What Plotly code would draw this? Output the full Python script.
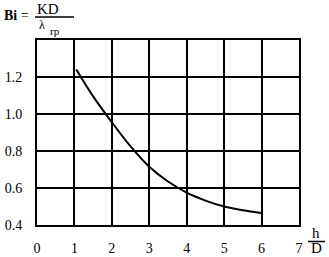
import plotly.graph_objects as go

x_vals = [1.05, 1.5, 2.0, 2.5, 3.0, 3.5, 4.0, 4.5, 5.0, 5.5, 6.0]
bi_vals = [1.24, 1.095, 0.955, 0.825, 0.715, 0.635, 0.575, 0.532, 0.50, 0.48, 0.465]
x_ticks = [0, 1, 2, 3, 4, 5, 6, 7]
y_ticks = [0.4, 0.6, 0.8, 1.0, 1.2]
y_labels = ["0.4", "0.6", "0.8", "1.0", "1.2"]

font = "Liberation Serif, Times New Roman, serif"
W, H = 329, 257
L, R, T, B = 37, 30, 40, 32
PW, PH = W - L - R, H - T - B

fig = go.Figure()
fig.add_trace(go.Scatter(x=x_vals, y=bi_vals, mode="lines",
                         line=dict(color="black", width=2, shape="spline", smoothing=1.0),
                         showlegend=False))

fig.update_xaxes(range=[0, 7], tickvals=x_ticks, ticktext=[str(v) for v in x_ticks],
                 showgrid=True, gridcolor="black", gridwidth=2,
                 showline=True, linecolor="black", linewidth=2, mirror=True,
                 zeroline=False, ticks="", ticklabelstandoff=9, automargin=False,
                 tickfont=dict(family=font, size=14, color="black"))
fig.update_yaxes(range=[0.4, 1.4], tickvals=y_ticks, ticktext=y_labels,
                 showgrid=True, gridcolor="black", gridwidth=2,
                 showline=True, linecolor="black", linewidth=2, mirror=True,
                 zeroline=False, ticks="", ticklabelstandoff=10, automargin=False,
                 tickfont=dict(family=font, size=14, color="black"))


def px(xp):
    return (xp - L) / PW


def py(yp):
    return (H - B - yp) / PH


ann = [
    dict(text="<b>Bi</b> =", x=3, y=15, xanchor="left", font=dict(size=14)),
    dict(text="KD", x=36, y=9, xanchor="left", font=dict(size=15)),
    dict(text="λ", x=38, y=25, xanchor="left", font=dict(size=12)),
    dict(text="rp", x=49, y=31, xanchor="left", font=dict(size=11)),
    dict(text="h", x=316, y=233, xanchor="center", font=dict(size=15)),
    dict(text="D", x=316, y=248, xanchor="center", font=dict(size=15)),
]
for a in ann:
    a["font"]["family"] = font
    a["font"]["color"] = "black"
    fig.add_annotation(xref="paper", yref="paper", showarrow=False,
                       text=a["text"], x=px(a["x"]), y=py(a["y"]),
                       xanchor=a["xanchor"], yanchor="middle", font=a["font"],
                       borderpad=0)

fig.add_shape(type="line", xref="paper", yref="paper",
              x0=px(35), x1=px(74), y0=py(17), y1=py(17),
              line=dict(color="black", width=1.5))
fig.add_shape(type="line", xref="paper", yref="paper",
              x0=px(308), x1=px(325), y0=py(241.5), y1=py(241.5),
              line=dict(color="black", width=1.5))

fig.update_layout(width=W, height=H,
                  margin=dict(l=L, r=R, t=T, b=B),
                  paper_bgcolor="white", plot_bgcolor="white")

fig.write_html("out.html")
